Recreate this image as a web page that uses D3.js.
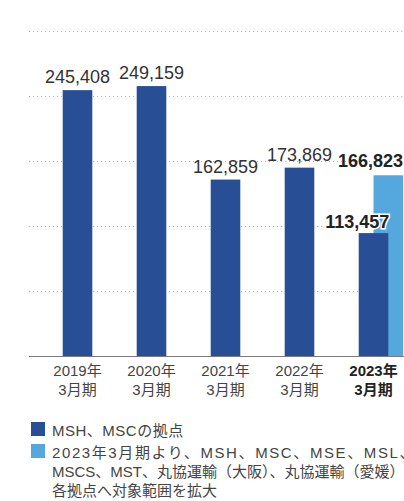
<!DOCTYPE html>
<html>
<head>
<meta charset="utf-8">
<script src="https://cdn.jsdelivr.net/npm/d3@7"></script>
<style>
body{margin:0;background:#fff;overflow:hidden;}
svg{display:block;font-family:"Liberation Sans","Noto Sans CJK JP",sans-serif;}
</style>
</head>
<body>
<div id="chart"></div>
<script>
// data
let years = ["2019年","2020年","2021年","2022年","2023年"];
let periodLabel = "3月期";
let baseValues = [245408, 249159, 162859, 173869, 113457];
let extValues = [null, null, null, null, 166823];
let gridTicks = [60000, 120000, 180000, 240000, 300000];
let legendItems = ["MSH、MSCの拠点", "2023年3月期より、MSH、MSC、MSE、MSL、"];
let legendMore = ["MSCS、MST、丸協運輸（大阪）、丸協運輸（愛媛）の", "各拠点へ対象範囲を拡大"];

let W = 404, H = 501;
let dark = "#284f96", light = "#55a8dd";

let svg = d3.select("#chart").append("svg").attr("width", W).attr("height", H);

let x = d3.scaleBand().domain(years).range([40.5, 410.5]).paddingInner(0.6).paddingOuter(0.3);
let y = d3.scaleLinear().domain([0, 300000]).range([356, 31]);

// dotted grid
svg.append("g").selectAll("line").data(gridTicks).enter().append("line")
	.attr("x1", 29).attr("x2", W)
	.attr("y1", d => Math.round(y(d)) + 0.5).attr("y2", d => Math.round(y(d)) + 0.5)
	.attr("stroke", "#b5b5b5").attr("stroke-width", 1).attr("stroke-dasharray", "1.2,2.8");

let bw = x.bandwidth();

// light (extended) bars, offset by half a bar
svg.append("g").selectAll("rect").data(years.filter((d, i) => extValues[i] != null)).enter().append("rect")
	.attr("x", d => x(d) + bw / 2)
	.attr("y", d => y(extValues[years.indexOf(d)]))
	.attr("width", bw)
	.attr("height", d => y(0) - y(extValues[years.indexOf(d)]))
	.attr("fill", light);

// dark bars
svg.append("g").selectAll("rect").data(years).enter().append("rect")
	.attr("x", d => x(d))
	.attr("y", (d, i) => y(baseValues[i]))
	.attr("width", bw)
	.attr("height", (d, i) => y(0) - y(baseValues[i]))
	.attr("fill", dark);

// baseline
svg.append("line").attr("x1", 29).attr("x2", W).attr("y1", y(0) + 0.5).attr("y2", y(0) + 0.5)
	.attr("stroke", "#7a7a7a").attr("stroke-width", 1.2);

// value labels
let fmt = d3.format(",");
let last = years.length - 1;
svg.append("g").selectAll("text").data(years.slice(0, last)).enter().append("text")
	.attr("x", d => x(d) + bw / 2)
	.attr("y", (d, i) => y(baseValues[i]) - 7)
	.attr("text-anchor", "middle")
	.attr("font-size", "18px")
	.attr("fill", "#333")
	.text((d, i) => fmt(baseValues[i]));

// latest year: bold, right aligned on each bar
svg.append("text")
	.attr("x", x(years[last]) + bw / 2 + bw).attr("y", y(extValues[last]) - 8)
	.attr("text-anchor", "end").attr("font-size", "18px").attr("font-weight", "bold").attr("fill", "#222")
	.text(fmt(extValues[last]));
svg.append("text")
	.attr("x", x(years[last]) + bw + 1).attr("y", y(baseValues[last]) - 5)
	.attr("text-anchor", "end").attr("font-size", "18px").attr("font-weight", "bold").attr("fill", "#222")
	.attr("stroke", "#fff").attr("stroke-width", 3).attr("paint-order", "stroke")
	.text(fmt(baseValues[last]));

// x axis labels
let xl = svg.append("g").selectAll("text").data(years).enter().append("text")
	.attr("x", d => x(d) + bw / 2)
	.attr("text-anchor", "middle")
	.attr("font-size", "15px")
	.attr("fill", (d, i) => i == last ? "#222" : "#444")
	.attr("font-weight", (d, i) => i == last ? "bold" : "normal");
xl.append("tspan").attr("x", d => x(d) + bw / 2).attr("y", 376).text(d => d);
xl.append("tspan").attr("x", d => x(d) + bw / 2).attr("y", 395).text(periodLabel);

// legend
let lg = svg.append("g");
let legendColors = [dark, light];
let legendY = [436, 458];
lg.selectAll("rect").data(legendItems).enter().append("rect")
	.attr("x", 31).attr("y", (d, i) => legendY[i] - 14)
	.attr("width", 14).attr("height", 14)
	.attr("fill", (d, i) => legendColors[i]);
lg.selectAll("text.item").data(legendItems).enter().append("text").attr("class", "item")
	.attr("x", 52).attr("y", (d, i) => legendY[i])
	.attr("font-size", "15px").attr("fill", "#444")
	.attr("letter-spacing", (d, i) => i == 1 ? "1.6px" : "0.5px")
	.text(d => d);
lg.selectAll("text.more").data(legendMore).enter().append("text").attr("class", "more")
	.attr("x", 52).attr("y", (d, i) => 477 + i * 19)
	.attr("font-size", "15px").attr("fill", "#444")
	.text(d => d);
</script>
</body>
</html>
